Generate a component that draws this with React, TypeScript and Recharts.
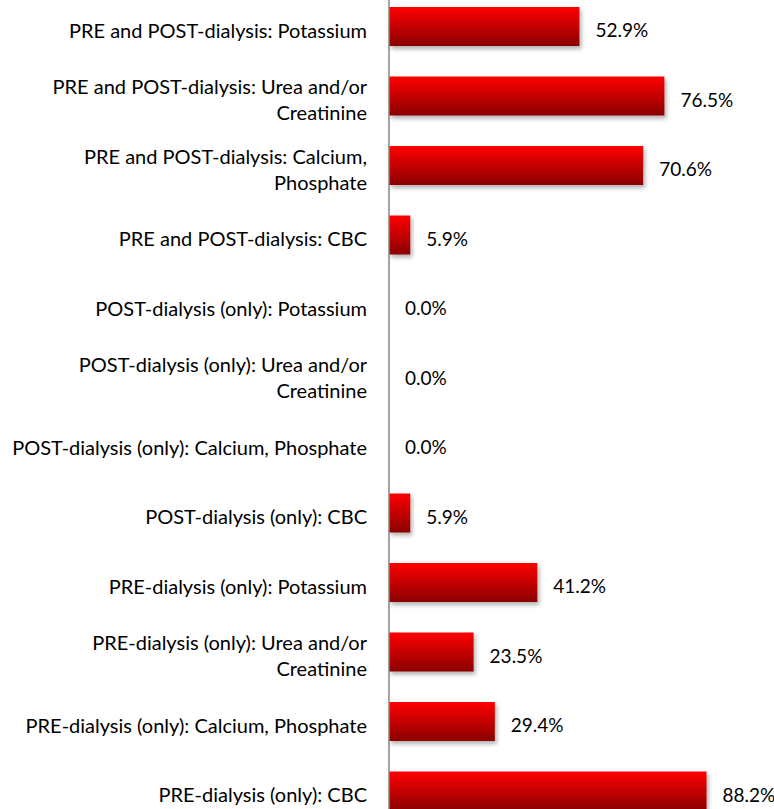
import React from "react";
import { BarChart, Bar, XAxis, YAxis, LabelList } from "recharts";

const categories: string[] = [
  "PRE and POST-dialysis: Potassium",
  "PRE and POST-dialysis: Urea and/or\nCreatinine",
  "PRE and POST-dialysis: Calcium,\nPhosphate",
  "PRE and POST-dialysis: CBC",
  "POST-dialysis (only): Potassium",
  "POST-dialysis (only): Urea and/or\nCreatinine",
  "POST-dialysis (only): Calcium, Phosphate",
  "POST-dialysis (only): CBC",
  "PRE-dialysis (only): Potassium",
  "PRE-dialysis (only): Urea and/or\nCreatinine",
  "PRE-dialysis (only): Calcium, Phosphate",
  "PRE-dialysis (only): CBC",
];

const percentValues: number[] = [52.9, 76.5, 70.6, 5.9, 0.0, 0.0, 0.0, 5.9, 41.2, 23.5, 29.4, 88.2];

const data = categories.map((name, i) => ({ name, value: percentValues[i] }));

const FONT = "Lato, 'Open Sans', sans-serif";

const CategoryTick = (props: any) => {
  const { x, y, payload } = props;
  const lines: string[] = String(payload.value).split("\n");
  const lh = 26;
  const startY = y + 3 - ((lines.length - 1) * lh) / 2;
  return (
    <text
      x={x - 22}
      y={startY}
      textAnchor="end"
      fill="#000"
      fontFamily={FONT}
      fontSize={20}
      dominantBaseline="central"
    >
      {lines.map((l, i) => (
        <tspan key={i} x={x - 22} y={startY + i * lh} dominantBaseline="central">
          {l}
        </tspan>
      ))}
    </text>
  );
};

const ValueLabel = (props: any) => {
  const { x, y, width, height, value } = props;
  const w = Number(width) || 0;
  return (
    <text
      x={x + w + 16}
      y={y + height / 2 + 3}
      fill="#000"
      fontFamily={FONT}
      fontSize={19}
      dominantBaseline="central"
      textAnchor="start"
    >
      {Number(value).toFixed(1) + "%"}
    </text>
  );
};

export default function App() {
  return (
    <div style={{ position: "absolute", left: 0, top: -9, width: 774, height: 840 }}>
      <BarChart
        width={774}
        height={840}
        data={data}
        layout="vertical"
        margin={{ top: 1, right: 25, bottom: 5, left: 0 }}
        barCategoryGap="44%"
      >
        <defs>
          <linearGradient id="barGrad" x1="0" y1="0" x2="0" y2="1">
            <stop offset="0%" stopColor="#ff0000" />
            <stop offset="100%" stopColor="#8a0000" />
          </linearGradient>
          <filter id="barShadow" x="-10%" y="-20%" width="130%" height="160%">
            <feDropShadow dx="2" dy="3" stdDeviation="2" floodColor="#000" floodOpacity="0.3" />
          </filter>
        </defs>
        <XAxis type="number" domain={[0, 100]} hide />
        <YAxis
          type="category"
          dataKey="name"
          width={389}
          axisLine={{ stroke: "#868686", strokeWidth: 1.5 }}
          tickLine={false}
          tickSize={0}
          tickMargin={0}
          interval={0}
          tick={<CategoryTick />}
        />
        <Bar
          dataKey="value"
          fill="url(#barGrad)"
          isAnimationActive={false}
          barSize={39}
          minPointSize={0.01}
          filter="url(#barShadow)"
        >
          <LabelList dataKey="value" content={<ValueLabel />} />
        </Bar>
      </BarChart>
    </div>
  );
}
